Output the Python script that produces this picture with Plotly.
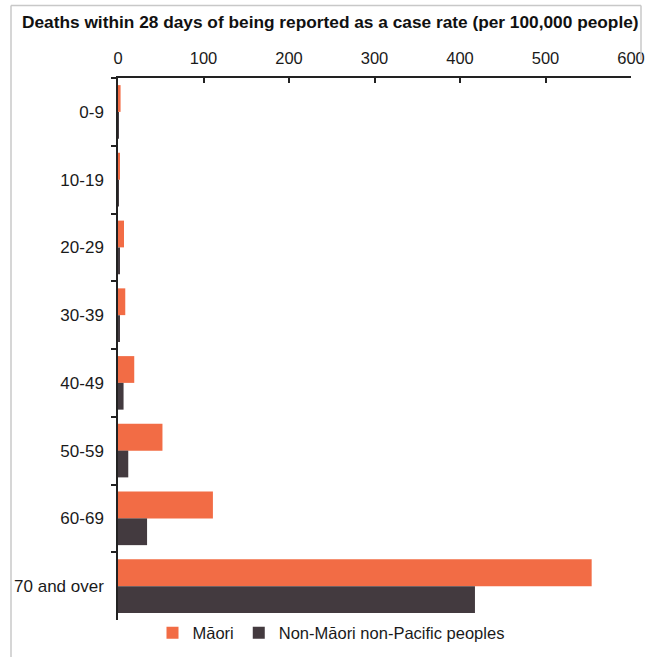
import plotly.graph_objects as go

categories = ["0-9", "10-19", "20-29", "30-39", "40-49", "50-59", "60-69", "70 and over"]
maori = [3, 1.5, 7, 8.5, 19, 52, 111, 554]
non_maori = [0.5, 0.5, 1.5, 1.5, 6.5, 12, 34, 417.5]
x_ticks = [0, 100, 200, 300, 400, 500, 600]

W, H = 646, 657
L, R, T, B = 118, 15, 78, 37
pw, ph = W - L - R, H - T - B

def px(x):
    return (x - L) / pw

def py(y):
    return (H - B - y) / ph

fig = go.Figure()
fig.add_trace(go.Bar(y=categories, x=maori, orientation="h", name="Māori",
                     marker=dict(color="#F26C45", line=dict(width=0))))
fig.add_trace(go.Bar(y=categories, x=non_maori, orientation="h", name="Non-Māori non-Pacific peoples",
                     marker=dict(color="#433A3F", line=dict(width=0))))

fig.update_layout(
    width=W, height=H,
    margin=dict(l=L, r=R, t=T, b=B, autoexpand=False),
    paper_bgcolor="white", plot_bgcolor="white",
    barmode="group", bargap=0.21, bargroupgap=0,
    font=dict(family="Liberation Sans, Arial, sans-serif", size=17, color="#1a1a1a"),
    showlegend=True,
    legend=dict(orientation="h", x=(331 - L) / pw, xanchor="center", y=py(633), yanchor="middle",
                font=dict(size=16.5, color="#1a1a1a"), itemwidth=30, traceorder="normal",
                bgcolor="rgba(0,0,0,0)"),
    annotations=[dict(text="<b>Deaths within 28 days of being reported as a case rate (per 100,000 people)</b>",
                      x=px(330), y=py(22), xref="paper", yref="paper", xanchor="center", yanchor="middle",
                      showarrow=False, font=dict(size=17.3, color="#111111"))],
    shapes=[
        dict(type="line", xref="paper", yref="paper", x0=px(11), x1=px(11), y0=py(5.5), y1=py(660),
             line=dict(color="#c8c8c8", width=1.5)),
        dict(type="line", xref="paper", yref="paper", x0=px(11), x1=px(641), y0=py(5.5), y1=py(5.5),
             line=dict(color="#c8c8c8", width=1.5)),
        dict(type="line", xref="paper", yref="paper", x0=px(641), x1=px(641), y0=py(5.5), y1=py(60),
             line=dict(color="#c8c8c8", width=1.5)),
    ],
)

fig.update_xaxes(side="top", range=[0, 600], tickvals=x_ticks, ticktext=[str(v) for v in x_ticks],
                 showgrid=False, zeroline=False, showline=True, linecolor="#222222", linewidth=1.5,
                 ticks="inside", ticklen=5, tickcolor="#222222", tickwidth=1.5, automargin=False,
                 ticklabelstandoff=6, tickfont=dict(size=16.5, color="#1a1a1a"))
fig.update_yaxes(autorange="reversed", showgrid=False, zeroline=False, showline=True,
                 linecolor="#222222", linewidth=1.5, ticks="outside", ticklen=5, tickcolor="#222222",
                 tickwidth=1.5, tickson="boundaries", ticklabelstandoff=9, automargin=False,
                 tickfont=dict(size=17, color="#1a1a1a"))

fig.write_html("out.html", config={"displayModeBar": False},
               post_script="document.body.style.margin='0';")
